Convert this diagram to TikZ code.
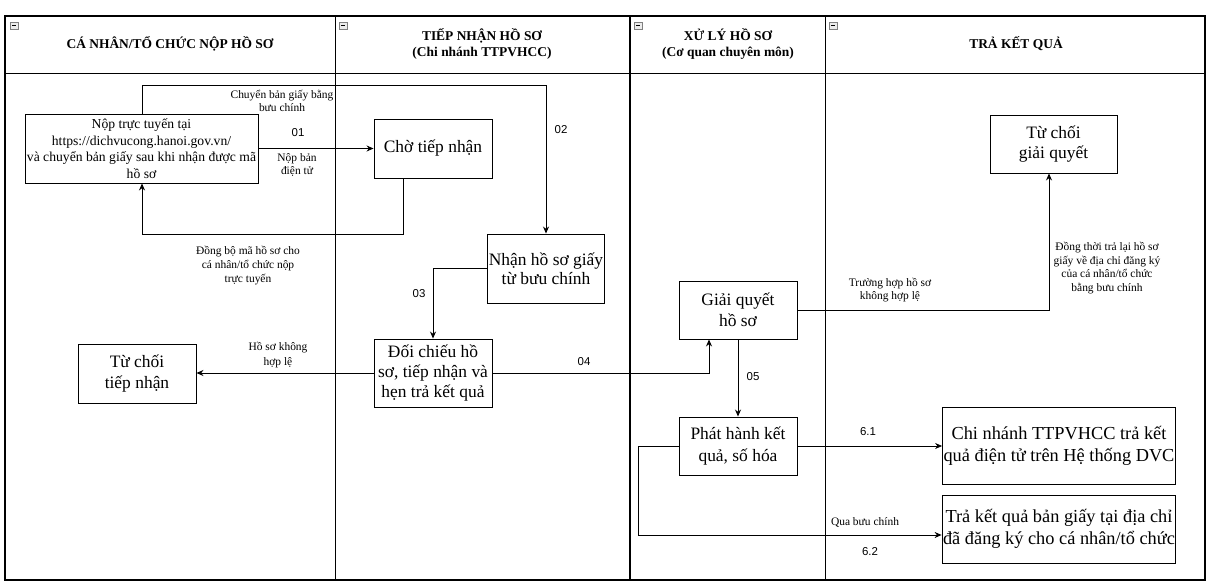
\documentclass[tikz,border=0pt]{standalone}
\usepackage{fontspec}
\setmainfont{Liberation Serif}
\newfontfamily\numfont{Liberation Sans}
\usetikzlibrary{arrows.meta}
\begin{document}
\begin{tikzpicture}[x=1bp,y=-1bp,
  box/.style={draw, line width=0.9bp, align=center, inner sep=1bp, font=\fontsize{17.5}{21.5}\selectfont},
  arr/.style={draw, line width=0.9bp, -{Stealth[length=7bp,width=6bp]}},
  lbl/.style={align=center, inner sep=0, font=\fontsize{11.5}{13.7}\selectfont},
  num/.style={inner sep=0, font=\numfont\fontsize{11.5}{13}\selectfont},
  hdr/.style={align=center, inner sep=0, font=\bfseries\fontsize{13.5}{16.5}\selectfont},
  icon/.style={draw=gray, line width=0.6bp, fill=gray!15}
]
\useasboundingbox (0,0) rectangle (1214,588);
\fill[white] (0,0) rectangle (1214,588);
% frame and lanes
\draw[line width=1.5bp] (5,16) rectangle (1205,580);
\draw[line width=1bp] (5,74) -- (1205,74);
\draw[line width=1bp] (335,16) -- (335,580);
\draw[line width=2bp] (630,16) -- (630,580);
\draw[line width=1bp] (825,16) -- (825,580);
% collapse icons
\foreach \ix in {10,339,634,829}{
  \draw[icon] (\ix,22) rectangle +(8,7);
  \draw[line width=0.6bp] (\ix+2,25.5) -- (\ix+6,25.5);
}
% headers
\node[hdr] (h1) at (170,44) {CÁ NHÂN/TỔ CHỨC NỘP HỒ SƠ};
\node[hdr] (h2) at (482,44) {TIẾP NHẬN HỒ SƠ\\(Chi nhánh TTPVHCC)};
\node[hdr] (h3) at (728,44) {XỬ LÝ HỒ SƠ\\(Cơ quan chuyên môn)};
\node[hdr] (h4) at (1016,44) {TRẢ KẾT QUẢ};
% boxes
\node[box, minimum width=233bp, minimum height=69bp, font=\fontsize{13.7}{16.7}\selectfont] (n1) at (141.5,148.5)
  {Nộp trực tuyến tại\\https://dichvucong.hanoi.gov.vn/\\và chuyển bản giấy sau khi nhận được mã\\hồ sơ};
\node[box, minimum width=118bp, minimum height=59bp] (cho) at (433,148.5) {Chờ tiếp nhận};
\node[box, minimum width=116bp, minimum height=69bp, font=\fontsize{17.5}{19.5}\selectfont] (nhan) at (546,268.5) {Nhận hồ sơ giấy\\từ bưu chính};
\node[box, minimum width=118bp, minimum height=68bp, font=\fontsize{17.5}{20.5}\selectfont] (doi) at (433,373) {Đối chiếu hồ\\sơ, tiếp nhận và\\hẹn trả kết quả};
\node[box, minimum width=118bp, minimum height=59bp] (tctn) at (137,373.5) {Từ chối\\tiếp nhận};
\node[box, minimum width=118bp, minimum height=58bp] (gq) at (738,310) {Giải quyết\\hồ sơ};
\node[box, minimum width=118bp, minimum height=58bp] (ph) at (738,446) {Phát hành kết\\quả, số hóa};
\node[box, minimum width=127bp, minimum height=58bp, font=\fontsize{17.5}{20}\selectfont] (tcgq) at (1053.5,144) {Từ chối\\giải quyết};
\node[box, minimum width=232bp, minimum height=77bp, font=\fontsize{18.4}{22}\selectfont] (cn) at (1059,445.5) {Chi nhánh TTPVHCC trả kết\\quả điện tử trên Hệ thống DVC};
\node[box, minimum width=232bp, minimum height=68bp, font=\fontsize{18.4}{21.5}\selectfont] (tk) at (1059,529) {Trả kết quả bản giấy tại địa chỉ\\đã đăng ký cho cá nhân/tổ chức};
% helper coordinates
\coordinate (j1) at (142,85);
\coordinate (sy) at (403,234);
\coordinate (sx) at (142,234);
\coordinate (c04) at (709,373);
\coordinate (ctc) at (1049,310);
\coordinate (c62a) at (638,446);
\coordinate (c62b) at (638,535);
% connectors
\draw[arr] (n1.east) -- (cho.west);
\draw[arr] (n1.north -| j1) -- (j1) -| (nhan.north);
\draw[arr] (cho.south -| sy) -- (sy) -- (sx) -- (n1.south -| sx);
\draw[arr] (nhan.west) -| (doi.north);
\draw[arr] (doi.west) -- (doi.west -| tctn.east);
\draw[arr] (doi.east) -- (c04) -- (gq.south -| c04);
\draw[arr] (gq.east) -- (ctc) -- (tcgq.south -| ctc);
\draw[arr] (gq.south) -- (ph.north);
\draw[arr] (ph.east) -- (ph.east -| cn.west);
\draw[arr] (ph.west) -- (c62a) -- (c62b) -- (c62b -| tk.west);
% labels
\node[lbl, font=\fontsize{11.5}{13}\selectfont] (l1) at (282,101) {Chuyển bản giấy bằng\\bưu chính};
\node[num] (l01) at (298,133) {01};
\node[lbl] (l2) at (297,165) {Nộp bản\\điện tử};
\node[num] (l02) at (561,130) {02};
\node[lbl] (l3) at (248,265.5) {Đồng bộ mã hồ sơ cho\\cá nhân/tổ chức nộp\\trực tuyến};
\node[num] (l03) at (419,294) {03};
\node[lbl, font=\fontsize{11.5}{15}\selectfont] (l4) at (278,355) {Hồ sơ không\\hợp lệ};
\node[num] (l04) at (584,362) {04};
\node[lbl] (l5) at (890,290) {Trường hợp hồ sơ\\không hợp lệ};
\node[lbl] (l6) at (1107,268) {Đồng thời trả lại hồ sơ\\giấy về địa chỉ đăng ký\\của cá nhân/tổ chức\\bằng bưu chính};
\node[num] (l05) at (753,377) {05};
\node[num] (l61) at (868,432) {6.1};
\node[lbl] (l7) at (865,522) {Qua bưu chính};
\node[num] (l62) at (870,552) {6.2};
\end{tikzpicture}
\end{document}
